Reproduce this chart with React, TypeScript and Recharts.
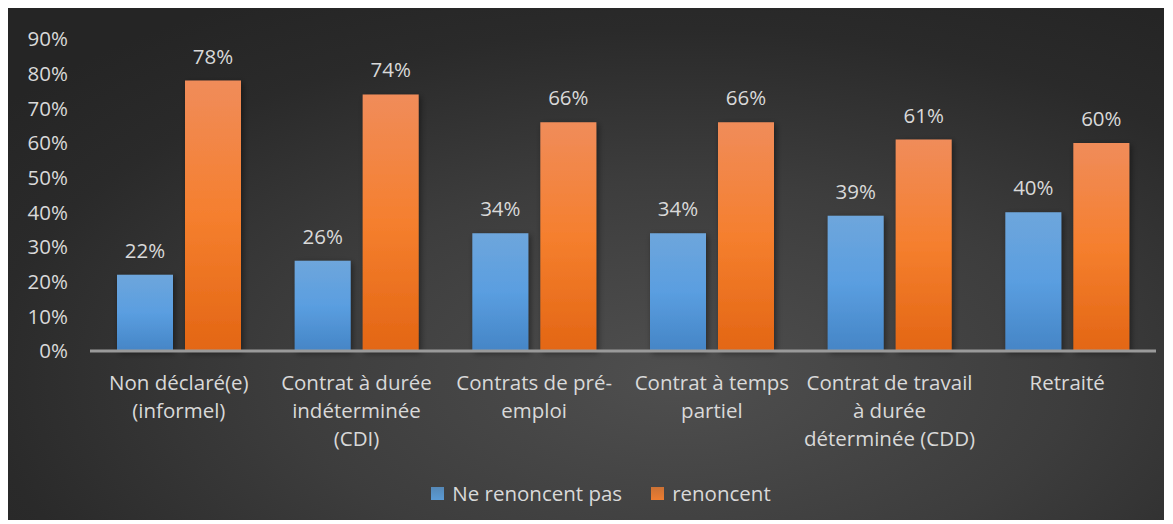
import { Bar, BarChart, LabelList, Legend, XAxis, YAxis } from "recharts";

const categories = [
  "Non déclaré(e) (informel)",
  "Contrat à durée indéterminée (CDI)",
  "Contrats de pré-emploi",
  "Contrat à temps partiel",
  "Contrat de travail à durée déterminée (CDD)",
  "Retraité",
];

// how the category names wrap under the axis
const tickLines = [
  ["Non déclaré(e)", "(informel)"],
  ["Contrat à durée", "indéterminée", "(CDI)"],
  ["Contrats de pré-", "emploi"],
  ["Contrat à temps", "partiel"],
  ["Contrat de travail", "à durée", "déterminée (CDD)"],
  ["Retraité"],
];

const nePasRenoncer = [0.22, 0.26, 0.34, 0.34, 0.39, 0.4];
const renoncent = [0.78, 0.74, 0.66, 0.66, 0.61, 0.6];

const yTicks = [0, 0.1, 0.2, 0.3, 0.4, 0.5, 0.6, 0.7, 0.8, 0.9];

const data = categories.map((name, i) => ({
  name,
  nePas: nePasRenoncer[i],
  renoncent: renoncent[i],
}));

const FONT = "'Open Sans', 'Noto Sans', sans-serif";
const TEXT = "#d9d9d9";
const FS = 20.5;

const pct = (v: number) => `${Math.round(v * 100)}%`;

// eslint-disable-next-line @typescript-eslint/no-explicit-any
function CategoryTick(props: any) {
  const { x, y, index } = props;
  const lines = tickLines[index] || [];
  return (
    <g transform={`translate(${x},${y})`}>
      {lines.map((l: string, i: number) => (
        <text
          key={i}
          x={0}
          y={i * 28}
          dy={31}
          textAnchor="middle"
          fill={TEXT}
          fontSize={FS}
          fontFamily={FONT}
        >
          {l}
        </text>
      ))}
    </g>
  );
}

function LegendBox() {
  const items = [
    { label: "Ne renoncent pas", solid: "#5b9bd5" },
    { label: "renoncent", solid: "#ed7d31" },
  ];
  return (
    <div
      style={{
        display: "flex",
        justifyContent: "center",
        gap: 29,
        paddingLeft: 30,
        fontFamily: FONT,
        fontSize: FS,
        color: TEXT,
      }}
    >
      {items.map((it) => (
        <div key={it.label} style={{ display: "flex", alignItems: "center" }}>
          <span
            style={{
              display: "inline-block",
              width: 13,
              height: 13,
              marginRight: 8,
              background: `linear-gradient(${it.solid}cc, ${it.solid})`,
            }}
          />
          {it.label}
        </div>
      ))}
    </div>
  );
}

export default function App() {
  return (
    <div
      style={{
        width: 1156,
        height: 512,
        background:
          "radial-gradient(ellipse 75% 85% at 58% 72%, #4f4f4f 0%, #3d3d3d 45%, #2a2a2a 80%, #252525 100%)",
      }}
    >
      <BarChart
        width={1156}
        height={512}
        data={data}
        margin={{ top: 31, right: 8, left: 10, bottom: 0 }}
        barSize={56}
        barGap={12}
      >
        <defs>
          <linearGradient id="blueGrad" x1="0" y1="0" x2="0" y2="1">
            <stop offset="0%" stopColor="#6ea6dc" />
            <stop offset="50%" stopColor="#5a9ee0" />
            <stop offset="100%" stopColor="#4585c6" />
          </linearGradient>
          <linearGradient id="orangeGrad" x1="0" y1="0" x2="0" y2="1">
            <stop offset="0%" stopColor="#f08c5a" />
            <stop offset="50%" stopColor="#f57f2e" />
            <stop offset="100%" stopColor="#e36614" />
          </linearGradient>
          <filter id="shadow" x="-30%" y="-10%" width="160%" height="130%">
            <feDropShadow dx="2" dy="2" stdDeviation="3" floodColor="#000" floodOpacity="0.45" />
          </filter>
        </defs>
        <XAxis
          dataKey="name"
          interval={0}
          height={107}
          tick={<CategoryTick />}
          tickLine={false}
          axisLine={{ stroke: "#9a9a9a", strokeWidth: 3 }}
        />
        <YAxis
          domain={[0, 0.9]}
          ticks={yTicks}
          tickFormatter={pct}
          width={72}
          tickSize={0}
          tickMargin={22}
          axisLine={false}
          tickLine={false}
          tick={{ fill: TEXT, fontSize: FS, fontFamily: FONT }}
        />
        <Legend
          verticalAlign="bottom"
          height={62}
          content={() => <LegendBox />}
          wrapperStyle={{ left: 0, width: 1156, top: 471, bottom: "auto" }}
        />
        <Bar
          dataKey="nePas"
          name="Ne renoncent pas"
          fill="url(#blueGrad)"
          filter="url(#shadow)"
          isAnimationActive={false}
        >
          <LabelList
            dataKey="nePas"
            position="top"
            offset={17}
            formatter={(v: unknown) => pct(Number(v))}
            fill={TEXT}
            fontSize={FS}
            fontFamily={FONT}
          />
        </Bar>
        <Bar
          dataKey="renoncent"
          name="renoncent"
          fill="url(#orangeGrad)"
          filter="url(#shadow)"
          isAnimationActive={false}
        >
          <LabelList
            dataKey="renoncent"
            position="top"
            offset={17}
            formatter={(v: unknown) => pct(Number(v))}
            fill={TEXT}
            fontSize={FS}
            fontFamily={FONT}
          />
        </Bar>
      </BarChart>
    </div>
  );
}
